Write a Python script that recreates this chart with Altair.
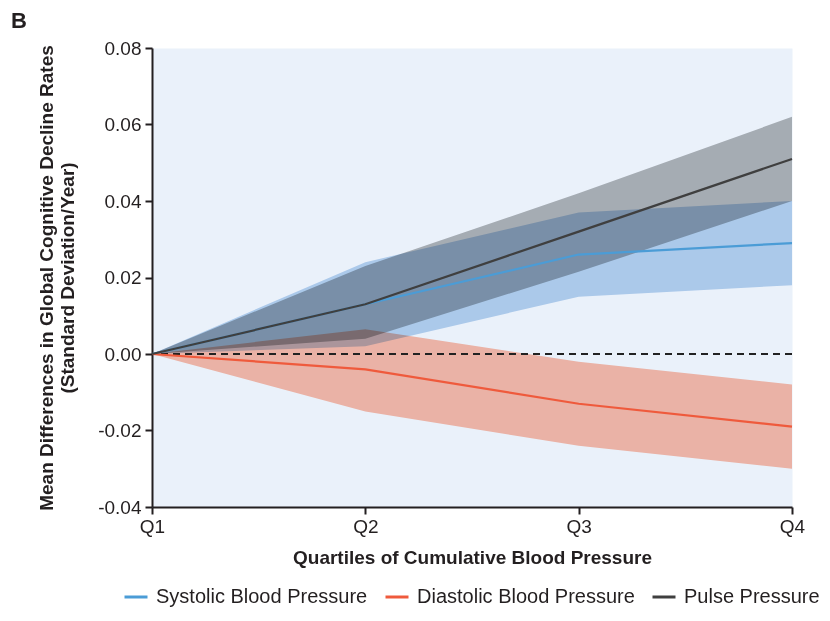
import altair as alt
import pandas as pd

quartiles = ["Q1", "Q2", "Q3", "Q4"]
series = ["Systolic Blood Pressure", "Diastolic Blood Pressure", "Pulse Pressure"]

sbp_mean = [0.0, 0.013, 0.026, 0.029]
sbp_lo = [0.0, 0.002, 0.015, 0.018]
sbp_hi = [0.0, 0.024, 0.037, 0.040]

dbp_mean = [0.0, -0.004, -0.013, -0.019]
dbp_lo = [0.0, -0.015, -0.024, -0.030]
dbp_hi = [0.0, 0.0065, -0.002, -0.008]

pp_mean = [0.0, 0.013, 0.032, 0.051]
pp_lo = [0.0, 0.004, 0.0215, 0.040]
pp_hi = [0.0, 0.023, 0.042, 0.062]

y_ticks = [-0.04, -0.02, 0.0, 0.02, 0.04, 0.06, 0.08]

line_colors = ["#4b9cd6", "#ef5a3c", "#3f3f3f"]
band_colors = ["#bbd5ef", "#ffbda9", "#b4b6b7"]

rows = []
for name, m, lo, hi in [
    (series[0], sbp_mean, sbp_lo, sbp_hi),
    (series[1], dbp_mean, dbp_lo, dbp_hi),
    (series[2], pp_mean, pp_lo, pp_hi),
]:
    for q, a, b, c in zip(quartiles, m, lo, hi):
        rows.append({"series": name, "quartile": q, "mean": a, "lo": b, "hi": c})
df = pd.DataFrame(rows)

FONT = "Liberation Sans"
TXT = "#231f20"

x_enc = alt.X(
    "quartile:O",
    sort=quartiles,
    scale=alt.Scale(type="point", padding=0),
    axis=alt.Axis(
        title="Quartiles of Cumulative Blood Pressure",
        labelAngle=0,
        labelFontSize=19,
        titleFontSize=19,
        titleFontWeight="bold",
        titlePadding=12,
        tickSize=7,
        labelPadding=3,
        domainColor="#231f20",
        tickColor="#231f20",
        domainWidth=2,
        tickWidth=2,
        labelColor=TXT,
        titleColor=TXT,
        labelFont=FONT,
        titleFont=FONT,
    ),
)

y_scale = alt.Scale(domain=[-0.04, 0.08], nice=False, zero=False)
y_axis = alt.Axis(
    values=y_ticks,
    labelExpr="replace(format(datum.value, '.2f'), '\u2212', '-')",
    title=["Mean Differences in Global Cognitive Decline Rates", "(Standard Deviation/Year)"],
    grid=False,
    labelFontSize=19,
    titleFontSize=19,
    titleFontWeight="bold",
    titlePadding=20,
    tickSize=7,
    labelPadding=4,
    domainColor="#231f20",
    tickColor="#231f20",
    domainWidth=2,
    tickWidth=2,
    labelColor=TXT,
    titleColor=TXT,
    labelFont=FONT,
    titleFont=FONT,
)

base = alt.Chart(df)

bands = base.mark_area(blend="multiply").encode(
    x=x_enc,
    y=alt.Y("lo:Q", scale=y_scale, axis=y_axis),
    y2="hi:Q",
    fill=alt.Fill("series:N", sort=series, scale=alt.Scale(domain=series, range=band_colors), legend=None),
)

zero = base.mark_rule(strokeDash=[7, 5], strokeWidth=2, color="#222222").encode(
    y=alt.datum(0)
)

lines = base.mark_line(strokeWidth=2.2).encode(
    x=x_enc,
    y=alt.Y("mean:Q", scale=y_scale),
    color=alt.Color(
        "series:N",
        sort=series,
        scale=alt.Scale(domain=series, range=line_colors),
        legend=alt.Legend(
            title=None,
            orient="none",
            direction="horizontal",
            legendX=-29,
            legendY=536,
            symbolType="stroke",
            symbolSize=529,
            symbolStrokeWidth=3,
            labelFontSize=20,
            labelFont=FONT,
            labelColor=TXT,
            labelLimit=400,
            labelOffset=7,
            columnPadding=11,
            padding=0,
        ),
    ),
)

letter = alt.Chart(alt.Data(values=[{"t": "B"}])).mark_text(
    fontSize=22, fontWeight="bold", align="left", baseline="top", font=FONT, color=TXT
).encode(text="t:N", x=alt.value(-141), y=alt.value(-37))

chart = (
    alt.layer(bands, zero, lines, letter)
    .resolve_scale(fill="independent", color="independent")
    .properties(
        width=640,
        height=459,
        autosize=alt.AutoSizeParams(type="none"),
        padding={"left": 144, "top": 40, "right": 30, "bottom": 105},
        background="white",
    )
    .configure_view(fill="#eaf1fa", strokeOpacity=0)
)

chart.save("out.html", embed_options={"renderer": "svg", "actions": False})
